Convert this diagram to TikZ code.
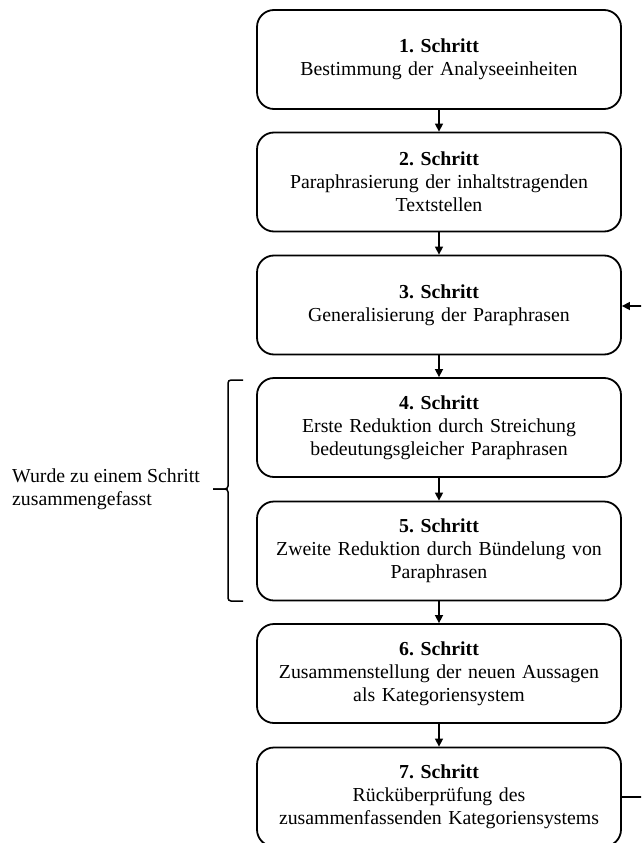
\documentclass[tikz,border=0pt]{standalone}
\usepackage{fontspec}
\setmainfont{Liberation Serif}
\usetikzlibrary{arrows.meta}
\begin{document}
\frenchspacing
\begin{tikzpicture}[x=1pt,y=-1pt,
  stepbox/.style={draw, line width=1.8pt, rounded corners=17pt,
    minimum width=364pt, minimum height=99pt, text width=350pt,
    align=center, font=\fontsize{19.8}{23}\selectfont, inner sep=0pt},
  flow/.style={line width=1.5pt, -{Triangle[length=8pt,width=8pt]}},
  label/.style={align=left, anchor=west, font=\fontsize{19.8}{23}\selectfont, inner sep=0pt}]
\clip (0,0) rectangle (641,843);
\fill[white] (0,0) rectangle (641,843);

\node[stepbox] (s1) at (439,59.5) {\textbf{1. Schritt}\\Bestimmung der Analyseeinheiten};
\node[stepbox] (s2) at (439,182) {\textbf{2. Schritt}\\Paraphrasierung der inhaltstragenden\\Textstellen};
\node[stepbox] (s3) at (439,305) {\textbf{3. Schritt}\\Generalisierung der Paraphrasen};
\node[stepbox] (s4) at (439,427.5) {\textbf{4. Schritt}\\Erste Reduktion durch Streichung\\bedeutungsgleicher Paraphrasen};
\node[stepbox] (s5) at (439,551) {\textbf{5. Schritt}\\Zweite Reduktion durch Bündelung von\\Paraphrasen};
\node[stepbox] (s6) at (439,673.5) {\textbf{6. Schritt}\\Zusammenstellung der neuen Aussagen\\als Kategoriensystem};
\node[stepbox] (s7) at (439,797) {\textbf{7. Schritt}\\Rücküberprüfung des\\zusammenfassenden Kategoriensystems};

\draw[flow] (s1) -- (s2);
\draw[flow] (s2) -- (s3);
\draw[flow] (s3) -- (s4);
\draw[flow] (s4) -- (s5);
\draw[flow] (s5) -- (s6);
\draw[flow] (s6) -- (s7);

% feedback loop from step 7 back to step 3
\coordinate (loopB) at (680,797);
\coordinate (loopT) at (680,306);
\draw[flow] (s7.east) -- (loopB) -- (loopT) -- (s3.east |- loopT);

% brace grouping steps 4 and 5
\coordinate (bTop) at (243,380);
\coordinate (bMid) at (213,489);
\coordinate (bBot) at (243,601);
\draw[line width=1.5pt, rounded corners=3pt] (bTop) -- (228,380) -- (228,489) -- (bMid);
\draw[line width=1.5pt, rounded corners=3pt] (bMid) -- (228,489) -- (228,601) -- (bBot);

\node[label] (note) at (12,489) {Wurde zu einem Schritt\\zusammengefasst};
\end{tikzpicture}
\end{document}
